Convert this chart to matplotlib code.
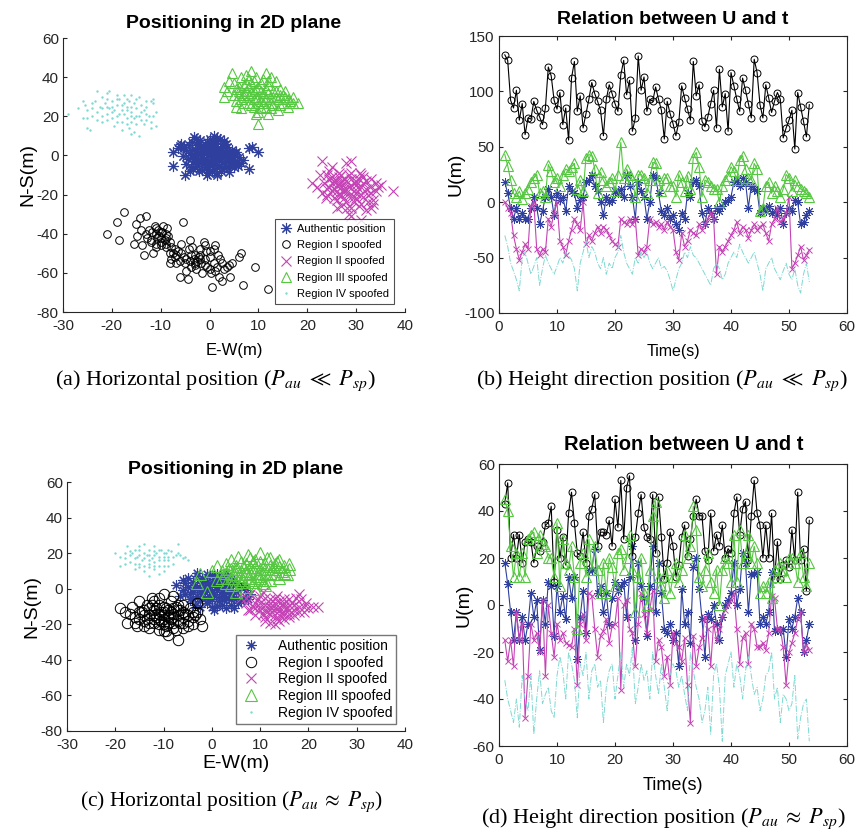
import numpy as np
import matplotlib
matplotlib.use("Agg")
import matplotlib.pyplot as plt

plt.rcParams['font.family'] = ['Liberation Sans', 'DejaVu Sans']
plt.rcParams['mathtext.fontset'] = 'stix'
plt.rcParams['axes.unicode_minus'] = False

BLUE = '#2E3F9E'
BLACK = '#000000'
MAGENTA = '#C443B5'
GREEN = '#55C741'
CYAN = '#7ED9D2'

labels = ['Authentic position', 'Region I spoofed', 'Region II spoofed',
          'Region III spoofed', 'Region IV spoofed']

# ---------------- (a) horizontal position, P_au << P_sp ----------------
auth_a = [(-7.5, 2), (-7.5, -5.5), (-5, -10), (-6, 5), (-5.2, 4.5), (-4.8, 3), (-4.5, -2), (-4.1, 1),
          (-3.8, -6), (-3.5, 7), (-3.2, 9.5), (-3, 3.5), (-2.8, -1.5), (-2.6, 5.5), (-2.3, 0.5), (-2.1, -4),
          (-1.9, 8), (-1.7, 2.5), (-1.5, -7.5), (-1.3, 4), (-1.1, -2.5), (-0.9, 6), (-0.7, 1.5), (-0.5, -10),
          (-0.4, 3), (-0.2, -5), (0, 0.5), (0.1, 8.5), (0.3, -3), (0.5, 5), (0.6, -1), (0.8, 2), (1, -7),
          (1.1, 6.5), (1.3, -4.5), (1.5, 9), (1.5, -10), (1.7, 1), (1.9, -2), (2.1, 4), (2.3, -8), (2.5, 0),
          (2.7, 6), (2.9, -3.5), (3.1, 2.5), (3.3, -6), (3.5, 4.5), (3.7, -1), (4, 1.5), (4.2, -5), (4.5, 3),
          (4.8, -2.5), (5, -6), (5.3, 0.5), (5.6, -3.5), (6, -1), (6.5, -4), (8, -7), (8, 4), (8.7, 4.2),
          (10, 2), (-6.5, 4), (-5.8, 6), (-4, -8), (-3, -3), (-2, 1.5), (-1, 3.5), (0, -2.5), (1, 2.5),
          (2, -5.5), (3, 7.5), (4, -8.5), (-0.5, 7), (0.5, -8), (1.5, 3.5), (2.5, -1.5), (3.5, 0.5),
          (-1.5, 0), (-2.5, -5.5), (0.2, 4.5), (1.8, -0.5), (-3.5, 0), (2.8, 2), (4.5, -0.5), (-0.8, -6),
          (5.5, 2), (-2.2, -8), (3.8, -3), (1.2, 0.5), (-1.2, -4.5),
          (-4.2, 5.2), (-3.6, -1.2), (-2.9, 2.1), (-2.4, -3.2), (-1.8, 4.8), (-1.4, -1.8), (-0.6, 2.8),
          (-0.3, -6.8), (0.4, 1.2), (0.7, -4.2), (1.4, 5.6), (1.9, -3.1), (2.4, 2.9), (2.9, -6.4), (3.4, 5.8),
          (3.9, 0.8), (4.4, -3.8), (-5.5, -0.5), (-4.8, -4.5), (5.9, -5.2), (6.8, -2.2), (-2.7, 8.6),
          (0.9, 9.8), (2.2, 8.2), (-0.1, -8.9), (1.6, -8.8), (4.9, 1.2), (-3.3, -6.9), (5.2, -4.5), (0.6, 6.2)]
reg1_a = [(-21, -40), (-19, -34), (-18.5, -43), (-17.5, -29), (-15.5, -45), (-15, -35), (-14.8, -41),
          (-14.2, -32), (-13.8, -46), (-13.5, -51), (-13, -31), (-12.5, -38), (-12, -44), (-11.5, -50),
          (-11.2, -36), (-11, -40), (-10.8, -42), (-10.5, -38), (-10.3, -41), (-10, -44), (-9.8, -39),
          (-9.5, -36), (-9.2, -43), (-9, -47), (-8.8, -37), (-8.5, -41), (-8.2, -55), (-8, -44), (-7.8, -53),
          (-7.5, -50), (-7, -48), (-6.8, -55), (-6.5, -49), (-6, -62), (-5.8, -45), (-5.5, -34), (-5.2, -52),
          (-5, -55), (-4.8, -59), (-4.5, -63), (-4.2, -48), (-4, -43), (-3.8, -57), (-3.5, -47), (-3.2, -53),
          (-3, -51), (-2.8, -58), (-2.5, -54), (-2.2, -52), (-2, -48), (-1.8, -55), (-1.5, -60), (-1.2, -44),
          (-1, -46), (-0.8, -49), (-0.5, -57), (0, -52), (0.3, -60), (0.5, -67), (1, -48), (1.2, -46),
          (1.5, -57), (1.8, -51), (2, -62), (2.5, -64), (3, -58), (3.5, -57), (4, -56), (4.2, -62), (4.5, -55),
          (6, -52), (6.5, -50), (6.8, -66), (9.3, -57), (12, -68), (-12, -43), (-11, -45), (-10, -42),
          (-9, -40), (-13, -40), (-6, -54), (-3, -56), (-2, -53), (1, -55), (-7, -52), (-8, -50), (-4, -54),
          (0, -58), (2.5, -55), (-1, -53),
          (-12.8, -42), (-11.8, -39), (-10.9, -37), (-9.9, -46), (-8.9, -45), (-7.9, -47), (-6.9, -51),
          (-5.9, -50), (-4.9, -53), (-3.9, -51), (-2.9, -55), (-1.9, -51), (-0.9, -56), (0.1, -49),
          (1.1, -59), (2.1, -53), (-14, -38), (-11, -47), (-10, -39), (-9, -42)]
reg2_a = [(23, -3), (21, -14), (22, -16), (23, -19), (24, -10), (24.5, -12), (25, -6), (25, -18),
          (25.5, -22), (26, -15), (26, -27), (26.5, -11), (27, -13), (27, -20), (27.5, -17), (28, -4),
          (28, -24), (28.5, -30), (29, -3), (29, -12), (29.5, -18), (30, -15), (30, -22), (30.5, -26),
          (31, -10), (31, -33), (31.5, -14), (32, -17), (32.5, -20), (33, -12), (33.5, -23), (34, -14),
          (34.5, -16), (35, -15), (37.5, -18), (33, -27), (33.5, -25), (32, -28), (29, -27), (27, -26),
          (26, -23), (24, -20), (23.5, -14), (22.5, -10), (25, -14), (26, -18), (27, -16), (28, -13),
          (29, -15), (30, -19), (31, -16), (32, -13), (28.5, -10), (27.5, -22), (29.5, -24), (26.5, -9),
          (30.5, -12), (24.5, -16), (28, -17), (31.5, -21), (25.5, -13), (27.2, -18), (29.8, -14),
          (30.8, -9), (23.8, -22), (26.8, -14), (28.8, -20), (32.8, -16), (31, -25), (29, -31),
          (24.5, -8), (25.5, -17), (26.5, -20), (27.5, -12), (28.5, -16), (29.5, -21), (30.5, -17),
          (31.5, -11), (32.5, -24), (27, -10), (28, -19), (30, -13), (26, -13), (33, -19), (25, -11),
          (29, -9), (31, -20), (28.2, -27), (34, -18), (24, -17)]
reg3_a = [(3, 30), (3, 35), (3.5, 33), (4.5, 42), (5, 37), (5.5, 28), (5.5, 25), (6, 33), (6.5, 40),
          (6.5, 24), (7, 36), (7, 30), (7.5, 41), (8, 35), (8, 27), (8.5, 43), (8.5, 32), (9, 38), (9, 25),
          (9.5, 30), (10, 35), (10, 22), (10, 16), (10.5, 28), (11, 39), (11, 32), (11.5, 25), (12, 36),
          (12, 21), (12.5, 40), (12.5, 30), (13, 33), (13, 26), (13.5, 38), (14, 29), (14, 23), (14.5, 34),
          (15, 27), (15.5, 30), (16, 25), (16.5, 28), (17, 30), (17, 27), (18, 27), (6, 35), (7.5, 33),
          (9, 29), (10.5, 33), (11.5, 29), (8, 31), (9.5, 34), (12, 32), (13.5, 30), (10, 30), (7, 27),
          (11, 27), (8.5, 37), (5, 31), (14.5, 31), (12.5, 24),
          (4, 38), (5.5, 34), (6.5, 29), (7.5, 37), (8.5, 26), (9.5, 40), (10.5, 37), (11.5, 34), (12.5, 27),
          (13.5, 33), (14.5, 26), (15.5, 33), (16, 29), (9, 33), (10, 27), (11, 30), (7, 32), (8, 39),
          (12, 38), (13, 30), (6, 31), (15, 31), (10.5, 24), (9.5, 21), (11.5, 42)]
reg4_a = [(-29, 21), (-26, 28), (-25.5, 26), (-25, 23), (-25, 19), (-24.5, 13), (-24, 27), (-23, 33),
          (-22.5, 25), (-22, 30), (-22, 20), (-21.5, 27), (-21, 32), (-21, 18), (-20.5, 24), (-20, 28),
          (-20, 22), (-19.5, 15), (-19, 26), (-19, 20), (-18.5, 29), (-18, 23), (-18, 17), (-17.5, 31),
          (-17.5, 21), (-17, 25), (-17, 19), (-16.5, 28), (-16.5, 14), (-16, 22), (-16, 17), (-15.5, 27),
          (-15.5, 12), (-15, 24), (-15, 20), (-14.5, 30), (-14.5, 10), (-14, 26), (-14, 18), (-13.5, 23),
          (-13.5, 16), (-13, 21), (-12, 28), (-12, 14), (-11.5, 29), (-11.5, 27), (-11, 22), (-11, 15),
          (-23, 22), (-20, 19), (-18, 26), (-16, 20), (-14, 22), (-19, 29), (-21, 25), (-17, 16), (-15, 29),
          (-13, 18), (-22, 17), (-24, 24), (-12.5, 20), (-20.5, 33), (-18, 13), (-16, 31), (-26, 19),
          (-25, 14), (-23.5, 28), (-19.5, 23), (-17.5, 27), (-15.5, 19),
          (-27, 24), (-23, 18), (-21, 29), (-19, 17), (-17, 29), (-16, 25), (-14.5, 20), (-13, 25),
          (-12, 17), (-18.5, 21), (-20, 25), (-15, 16), (-22, 24), (-24, 20), (-17, 23), (-11.5, 20),
          (-13, 28), (-16, 11), (-19, 31), (-21, 21)]

# ---------------- (c) horizontal position, P_au ~ P_sp ----------------
auth_c = [(-7.5, 2), (-6, 5), (-5.5, -3), (-5, 1), (-4.5, -6), (-4, 4), (-3.5, -9), (-3, 7), (-2.5, -1),
          (-2, 3), (-1.5, -5), (-1, 8), (-0.5, 0), (0, -10), (0, 4), (0.5, -3), (1, 6), (1.5, -7), (2, 1),
          (2.5, -4), (3, 9), (3, -11), (3.5, 2), (4, -6), (4.5, 5), (5, -2), (5.5, -8), (6, 1), (6.5, -5),
          (7, -1), (8, -3), (-4, 0), (-3, -4), (-2, 6), (-1, -8), (0, 2), (1, -1), (2, 5), (3, -2), (4, 0),
          (-6, -1), (-2.5, -7), (1.5, 3), (-0.5, -4), (2.5, 7), (-3.5, 2), (5, 3), (0.5, -12), (-1.5, 1),
          (4, -9), (6, -7), (-5, 6), (2, -9), (-2, -3), (1, 8), (3.5, -5), (-4.5, -3), (0, -6), (-1, 4),
          (2.5, -1),
          (-3, 1), (-2, -1), (-1, 2), (0, -2), (1, 1), (2, -2), (3, 3), (4, -3), (-4, -2), (-1.5, 5),
          (0.5, 5.5), (1.5, -4.5), (2.5, -6.5), (-0.5, -7), (3.5, 6), (5.5, -1), (-5.5, 3), (6.5, 2),
          (-2.5, -10), (1, -9.5), (-6.5, -4), (7.5, -6), (-3, 9), (4.5, -11), (0, 7.5), (-4, -6), (2, 3),
          (-1, -1), (3, 0.5), (5, -5)]
reg1_c = [(-19, -11), (-18, -13), (-17.5, -19), (-16.5, -10), (-16, -16), (-15.5, -21), (-15, -7),
          (-14.5, -13), (-14, -18), (-13.5, -9), (-13, -15), (-13, -22), (-12.5, -5), (-12, -12), (-12, -19),
          (-11.5, -16), (-11, -9), (-11, -23), (-10.5, -13), (-10.5, -18), (-10, -3), (-10, -15), (-9.5, -11),
          (-9.5, -21), (-9, -16), (-9, -26), (-8.5, -7), (-8.5, -13), (-8, -19), (-8, -4), (-7.5, -10),
          (-7.5, -23), (-7, -15), (-7, -29), (-6.5, -12), (-6.5, -19), (-6, -9), (-6, -22), (-5.5, -14),
          (-5, -18), (-4.5, -11), (-4, -20), (-3.5, -15), (-3, -8), (-2.5, -17), (-2, -21), (-12, -15),
          (-11, -17), (-10, -13), (-9, -15), (-8, -14), (-11.5, -11), (-13.5, -17), (-8.5, -17), (-10, -20),
          (-14, -12), (-7, -12), (-12.5, -9), (-6, -16), (-9.5, -24),
          (-17, -14), (-15, -17), (-14, -15), (-13, -11), (-12, -17), (-11, -14), (-10, -17), (-9, -12),
          (-8, -16), (-7, -18), (-6, -13), (-5, -15), (-4, -16), (-3, -13), (-11, -20), (-9, -19),
          (-13, -19), (-15, -13), (-10, -10), (-8, -11), (-6, -19), (-12, -7), (-14, -21), (-10, -24),
          (-8, -22), (-4, -13), (-16, -19), (-7, -9), (-5, -21), (-11, -5)]
reg2_c = [(6, -5), (7, -8), (7.5, -12), (8, -3), (8.5, -10), (9, -15), (9.5, -6), (10, -12), (10.5, -2),
          (11, -9), (11, -16), (11.5, -13), (12, -6), (12, -19), (12.5, -11), (13, -8), (13, -15), (13.5, -4),
          (14, -12), (14, -18), (14.5, -9), (15, -14), (15, -6), (15.5, -11), (16, -16), (16.5, -8),
          (17, -12), (17.5, -5), (18, -10), (18, -3), (19, -13), (19.5, -8), (20, -11), (21, -10), (22, -10),
          (10, -8), (12, -10), (13.5, -17), (15, -10), (16, -12), (14, -7), (11, -5), (9, -11), (17, -15),
          (12.5, -13), (18.5, -6), (10.5, -14), (13, -20), (16, -9), (14.5, -14),
          (7, -5), (8, -12), (9, -8), (10, -4), (11, -12), (12, -14), (13, -11), (14, -15), (15, -8),
          (16, -14), (17, -9), (18, -13), (19, -10), (13, -6), (11, -18), (15, -17), (12, -8), (14, -10),
          (16, -6), (10, -10)]
reg3_c = [(-3, 3), (-2.5, 8), (-1, -2), (0, 10), (1, 13), (2, 6), (3, 3), (3.5, 11), (4, 16), (4.5, 8),
          (5, 13), (5, 3), (5.5, 18), (6, 10), (6.5, 5), (7, 14), (7, 1), (7.5, 19), (8, 9), (8, 12),
          (8.5, 4), (9, 16), (9.5, 7), (10, 20), (10, 11), (10.5, 3), (11, 14), (11, 8), (11.5, 17), (12, 5),
          (12.5, 11), (13, 8), (13.5, 15), (14, 6), (14.5, 10), (15, 13), (15.5, 8), (16, 11), (6, 7), (9, 9),
          (7.5, 6), (10, 6), (8.5, 15), (4, 6), (12, 13), (3, 9), (6.5, 12), (11, 2), (13, 11), (9, 0),
          (5, -2), (1, 5),
          (2, 10), (3, 14), (4, 11), (5, 8), (6, 15), (7, 10), (8, 6), (9, 12), (10, 15), (11, 11), (12, 9),
          (13, 14), (14, 12), (15, 9), (6, 4), (8, 17), (10, 9), (12, 17), (7, 8), (9, 5), (11, 5), (14, 16),
          (16, 14), (4, 2), (5, 11)]
reg4_c = [(-20, 20), (-19, 13), (-18, 17), (-17.5, 24), (-17, 15), (-16.5, 20), (-16, 11), (-15.5, 18),
          (-15, 22), (-15, 14), (-14.5, 16), (-14, 25), (-14, 10), (-13.5, 19), (-13, 14), (-13, 22),
          (-12.5, 17), (-12, 24), (-12, 11), (-11.5, 20), (-11, 16), (-11, 8), (-10.5, 22), (-10, 18),
          (-10, 13), (-9.5, 20), (-9, 16), (-8.5, 21), (-8, 14), (-7, 25), (-6.5, 19), (-6, 17), (-5.5, 18),
          (-5, 16), (-13, 16), (-12, 19), (-14, 20), (-16, 17), (-11, 13), (-9, 18), (-15, 12), (-18, 14),
          (-17, 21), (-13, 7), (-10, 10), (-7.5, 19), (-12, 21), (-15, 19),
          (-19, 18), (-17, 19), (-16, 14), (-14, 17), (-13, 19), (-12, 15), (-11, 22), (-10, 16), (-9, 22),
          (-8, 18), (-14, 13), (-12, 13), (-15, 24), (-11, 18), (-13, 12), (-16, 22), (-7, 20), (-9, 13),
          (-18, 20), (-10, 20)]

# ---------------- time series: samples every 0.5 s from 1 s to 53.5 s ----------------
t = np.arange(1, 54, 0.5)

u_auth_b = [18, 8, -5, -15, -5, -15, -10, -15, -15, -5, 5, -5, -20, -8, 5, 12, 5, -12, 8, 2,
            5, -8, 15, 10, 8, -5, 2, 5, 18, 20, 25, 15, 10, 0, -12, 5, 0, 2, 10, 8,
            12, 5, 25, 15, 5, -15, 18, 10, 5, -15, 0, 25, 22, 8, -8, -12, -5, -15, -12, -20,
            -25, -10, -15, 8, 5, 18, 20, 15, -10, -20, -5, -10, -15, -5, -8, -3, 0, 2, 5, 18,
            20, 15, 22, 18, -5, 15, 12, 10, -10, -5, -8, -3, -10, -8, -12, -5, -20, -10, -5, -8,
            2, 0, -20, -18, -12, -8]
u_reg1_b = [133, 128, 92, 85, 101, 74, 89, 61, 76, 75, 91, 83, 77, 70, 85, 122, 114, 92, 84, 99,
            70, 85, 56, 112, 127, 82, 96, 67, 80, 93, 108, 98, 91, 83, 60, 93, 106, 98, 89, 82,
            115, 128, 97, 110, 64, 76, 132, 101, 113, 82, 93, 91, 104, 93, 83, 57, 91, 80, 71, 60,
            72, 105, 94, 84, 74, 127, 96, 106, 73, 68, 77, 89, 101, 67, 120, 86, 98, 64, 117, 105,
            93, 82, 112, 101, 89, 76, 129, 117, 88, 76, 106, 94, 81, 91, 99, 93, 58, 67, 74, 83,
            48, 99, 86, 73, 59, 88]
u_reg2_b = [0, -5, -10, -30, -42, -52, -45, -38, -42, -3, 0, -42, -48, -42, -45, -15, -22, -10, 0, -35,
            -40, -48, -35, -25, -15, -20, -25, 0, -38, -30, -35, -28, -22, -28, -22, -25, -30, -35, -38, -40,
            -15, -18, -20, -15, -20, -15, -48, -42, -45, -40, -15, -20, -18, -22, -20, -25, -18, -22, -25, -45,
            -52, -28, -40, -35, -25, -28, -30, -20, -25, -20, -15, -10, -15, -65, -40, -45, -40, -35, -30, -25,
            -18, -28, -22, -25, -32, -25, -20, -25, -22, -20, -28, -35, -20, -15, -5, -18, -15, -10, 5, -60,
            -55, -48, -40, -52, -48, -43]
u_reg3_b = [43, 33, 20, 8, 5, 10, 3, 8, 12, 18, 22, 25, 8, 10, 5, 34, 28, 18, 22, 15,
            25, 30, 28, 32, 35, 12, 20, 10, 40, 43, 42, 30, 8, 27, 20, 15, 18, 22, 10, 25,
            54, 22, 30, 25, 20, 5, 25, 25, 22, 8, 20, 36, 35, 20, 10, 22, 22, 15, 15, 5,
            25, 18, 10, 24, 12, 40, 45, 32, 5, 20, 18, 15, 12, 12, 0, 15, 20, 24, 32, 28,
            20, 38, 42, 30, 22, 20, 35, 30, -8, -5, 15, 18, 8, 15, 10, 5, 12, 25, 22, 10,
            20, 15, 12, 10, 8, 5]
u_reg4_b = [-30, -40, -55, -62, -70, -80, -50, -45, -55, -65, -58, -50, -75, -60, -48, -55, -60, -65, -58, -50,
            -55, -45, -48, -52, -60, -80, -55, -45, -35, -50, -40, -45, -55, -60, -50, -65, -55, -60, -50, -45,
            -30, -45, -55, -60, -65, -50, -55, -45, -50, -45, -55, -60, -55, -50, -60, -58, -62, -70, -80, -70,
            -60, -55, -45, -50, -40, -48, -50, -55, -60, -65, -70, -75, -60, -55, -60, -70, -65, -55, -50, -45,
            -50, -38, -45, -50, -55, -50, -45, -55, -65, -80, -60, -55, -50, -60, -65, -70, -62, -55, -65, -70,
            -60, -75, -82, -65, -55, -72]

u_auth_d = [18, 9, -3, -15, -3, -15, -5, -15, -8, 5, -5, 2, -19, 2, -8, 10, 8, -13, 8, -3,
            4, -6, 12, 3, 12, -23, -5, 6, -12, 15, 15, 24, 5, 8, -3, 5, -8, 3, 10, 6,
            8, 10, -5, 12, 25, -15, 18, 8, 3, -13, 8, 25, -3, 18, 5, -10, -12, -8, -15, -12,
            -26, 7, -8, -3, -16, 16, 20, 7, -6, -22, -4, -6, 0, -8, -15, -5, 0, 2, 5, 18,
            0, 7, 22, 18, -3, 13, 13, 14, -8, -5, -8, -3, 14, -11, -10, -11, -10, -22, -6, -10,
            -5, 3, -3, -20, -15, -8]
u_reg1_d = [43, 52, 20, 30, 20, 30, 18, 27, 28, 27, 18, 25, 23, 27, 34, 35, 42, 10, 32, 20,
            29, 17, 39, 48, 35, 22, 21, 31, 18, 38, 41, 47, 25, 31, 31, 30, 36, 25, 45, 33,
            53, 28, 50, 55, 21, 29, 39, 47, 33, 29, 28, 47, 22, 46, 29, 11, 18, 31, 25, 12,
            17, 29, 34, 21, 28, 38, 45, 38, 38, 23, 19, 39, 23, 30, 25, 34, 20, 24, 22, 39,
            46, 30, 41, 44, 19, 38, 53, 39, 34, 20, 34, 20, 39, 11, 27, 11, 17, 19, 16, 32,
            19, 48, 19, 24, 6, 36]
u_reg2_d = [-15, -24, -15, -26, -3, -15, -8, -48, -30, -8, -15, -12, -20, 2, -30, 0, -12, -22, -8, -15,
            -12, -16, -17, -18, -10, -34, -8, -4, -15, 5, 4, -10, -22, -13, -11, -6, -16, -9, -8, 3,
            -36, 0, 2, -10, -12, -26, -8, 5, -4, -12, -2, 6, -24, -15, -18, -30, -22, -34, -12, -16,
            -18, -24, -14, -34, -50, -13, -26, -18, -14, -5, -10, -26, -8, -15, -10, -5, -2, 0, 2, 5,
            -10, -25, -14, -12, -25, -8, -10, -18, -18, -16, -19, -12, 4, 3, -10, -10, -18, -34, -20, -16,
            -12, -6, -3, -20, -17, -19]
u_reg3_d = [45, 40, 25, 12, 22, 12, 22, 12, 28, 30, 31, 22, 30, 26, 25, 20, 20, 12, 35, 8,
            28, 18, 15, 25, 12, -10, 18, 22, 12, 28, 15, 25, 15, 5, 18, 5, 20, 16, 8, 22,
            24, 15, 20, 30, 15, -3, 12, 20, 5, 0, 15, 38, 44, 12, 8, 3, 15, 5, 12, 18,
            10, 15, 30, 20, 25, 42, 32, 12, 8, 15, 22, 10, 5, 15, 0, 15, 20, 18, 10, 30,
            10, 32, 18, 22, 30, 18, 25, 18, 5, 8, 5, 10, 3, 15, 12, 18, 15, 12, 20, 20,
            18, 10, 22, 12, 8, 18]
u_reg4_d = [-32, -40, -45, -50, -40, -52, -30, -40, -45, -30, -55, -40, -28, -42, -38, -35, -45, -48, -30, -22,
            -28, -40, -20, -25, -32, -48, -25, -30, -20, -40, -28, -25, -35, -32, -50, -35, -28, -25, -40, -30,
            -20, -35, -25, -30, -18, -42, -35, -25, -32, -28, -40, -20, -30, -38, -25, -35, -45, -30, -25, -28,
            -35, -30, -38, -45, -20, -28, -35, -40, -50, -45, -35, -55, -30, -25, -35, -58, -30, -25, -20, -35,
            -25, -30, -40, -28, -22, -30, -38, -35, -45, -40, -30, -28, -20, -40, -35, -50, -38, -40, -45, -42,
            -30, -57, -48, -42, -40, -58]

fig = plt.figure(figsize=(8.61, 8.35), dpi=100)
W, H = 861, 835


def add_axes(l, t_, r, b):
    return fig.add_axes([l / W, 1 - b / H, (r - l) / W, (b - t_) / H])


def style(ax, box):
    for s in ax.spines.values():
        s.set_color('#262626')
        s.set_linewidth(0.8)
    if not box:
        ax.spines['top'].set_visible(False)
        ax.spines['right'].set_visible(False)
    ax.tick_params(direction='in', length=3, width=0.8, labelsize=11, colors='#262626',
                   top=box, right=box, pad=3)
    ax.tick_params(axis='x', pad=5)


def scatter_panel(ax, pts, ms):
    styles = [
        dict(marker=(8, 2, 0), color=BLUE, ms=ms[0], mew=0.8),
        dict(marker='o', color=BLACK, mfc='none', ms=ms[1], mew=0.7),
        dict(marker='x', color=MAGENTA, ms=ms[2], mew=0.8),
        dict(marker='^', color=GREEN, mfc='none', ms=ms[3], mew=0.8),
        dict(marker='.', color=CYAN, ms=ms[4], mew=0),
    ]
    for p, st, lab in zip(pts, styles, labels):
        arr = np.array(p)
        ax.plot(arr[:, 0], arr[:, 1], ls='none', label=lab, **st)


def series_panel(ax, ys):
    ax.plot(t, ys[0], color=BLUE, lw=0.8, marker=(8, 2, 0), ms=6.5, mew=0.7)
    ax.plot(t, ys[1], color=BLACK, lw=0.8, marker='o', mfc='none', ms=5, mew=0.7)
    ax.plot(t, ys[2], color=MAGENTA, lw=0.8, marker='x', ms=5, mew=0.7)
    ax.plot(t, ys[3], color=GREEN, lw=0.8, marker='^', mfc='none', ms=6.5, mew=0.8)
    ax.plot(t, ys[4], color=CYAN, lw=0.7, ls='-.')
    ax.set_xlim(0, 60)
    ax.set_xticks(range(0, 61, 10))


# (a)
ax = add_axes(63, 38, 405, 312)
scatter_panel(ax, [auth_a, reg1_a, reg2_a, reg3_a, reg4_a], [8, 5.5, 6.5, 7, 3.5])
ax.set_xlim(-30, 40)
ax.set_ylim(-80, 60)
ax.set_xticks(range(-30, 41, 10))
ax.set_yticks(range(-80, 61, 20))
style(ax, False)
ax.set_title('Positioning in 2D plane', fontsize=14, fontweight='bold', pad=7)
ax.set_xlabel('E-W(m)', fontsize=12, labelpad=7)
ax.set_ylabel('N-S(m)', fontsize=14, labelpad=0)
leg = ax.legend(loc='lower right', bbox_to_anchor=(0.985, 0.01), fontsize=8, frameon=True,
                fancybox=False, edgecolor='#262626', handletextpad=0.4, borderpad=0.45,
                labelspacing=0.55, handlelength=1.2)
leg.get_frame().set_linewidth(0.8)

# (b)
ax = add_axes(499, 36, 847, 313)
series_panel(ax, [u_auth_b, u_reg1_b, u_reg2_b, u_reg3_b, u_reg4_b])
ax.set_ylim(-100, 150)
ax.set_yticks(range(-100, 151, 50))
style(ax, True)
ax.set_title('Relation between U and t', fontsize=14, fontweight='bold', pad=9)
ax.set_xlabel('Time(s)', fontsize=11.5, labelpad=7)
ax.set_ylabel('U(m)', fontsize=14, labelpad=0)

# (c)
ax = add_axes(67, 482, 405, 731)
scatter_panel(ax, [auth_c, reg1_c, reg2_c, reg3_c, reg4_c], [7.5, 7.5, 6.5, 8, 3.5])
ax.set_xlim(-30, 40)
ax.set_ylim(-80, 60)
ax.set_xticks(range(-30, 41, 10))
ax.set_yticks(range(-80, 61, 20))
style(ax, False)
ax.set_title('Positioning in 2D plane', fontsize=14, fontweight='bold', pad=6)
ax.set_xlabel('E-W(m)', fontsize=14, labelpad=2)
ax.set_ylabel('N-S(m)', fontsize=14, labelpad=0)
leg = ax.legend(loc='lower right', bbox_to_anchor=(0.995, 0.0), fontsize=10, frameon=True,
                fancybox=False, edgecolor='#555555', handletextpad=1.2, borderpad=0.3,
                labelspacing=0.2, handlelength=1.5)
leg.get_frame().set_linewidth(1.0)

# (d)
ax = add_axes(499, 464, 847, 746)
series_panel(ax, [u_auth_d, u_reg1_d, u_reg2_d, u_reg3_d, u_reg4_d])
ax.set_ylim(-60, 60)
ax.set_yticks(range(-60, 61, 20))
style(ax, True)
ax.set_title('Relation between U and t', fontsize=14.5, fontweight='bold', pad=10, x=0.53)
ax.set_xlabel('Time(s)', fontsize=13, labelpad=7)
ax.set_ylabel('U(m)', fontsize=14, labelpad=0)

cap = dict(family=['Liberation Serif'], ha='center', va='center')
fig.text(215 / W, 1 - 381 / H, r'(a) Horizontal position ($P_{au}\ \ll\ P_{sp}$)', fontsize=16, **cap)
fig.text(662 / W, 1 - 381 / H, r'(b) Height direction position ($P_{au}\ \ll\ P_{sp}$)', fontsize=16, **cap)
fig.text(231 / W, 1 - 802 / H, r'(c) Horizontal position ($P_{au}\;\approx\;P_{sp}$)', fontsize=15.5, **cap)
fig.text(663 / W, 1 - 819 / H, r'(d) Height direction position ($P_{au}\;\approx\;P_{sp}$)', fontsize=16, **cap)

fig.savefig('out.png', dpi=100)
